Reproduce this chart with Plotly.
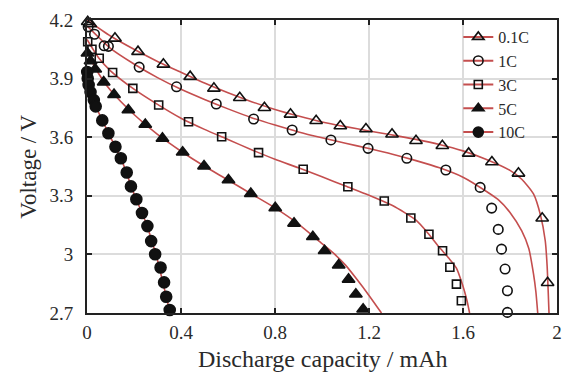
import plotly.graph_objects as go

# ---- measured discharge points (capacity in mAh, voltage in V) ----
c01_cap = [0.003, 0.014, 0.119, 0.217, 0.325, 0.439, 0.540, 0.650, 0.755, 0.866, 0.975,
           1.078, 1.187, 1.298, 1.400, 1.512, 1.624, 1.723, 1.836, 1.937, 1.960]
c01_volt = [4.191, 4.180, 4.106, 4.038, 3.973, 3.910, 3.850, 3.802, 3.751, 3.717, 3.684,
            3.657, 3.642, 3.615, 3.582, 3.556, 3.517, 3.473, 3.415, 3.185, 2.855]

c1_cap = [0.005, 0.032, 0.073, 0.091, 0.222, 0.381, 0.550, 0.709, 0.873, 1.038, 1.196,
          1.361, 1.527, 1.673, 1.722, 1.750, 1.764, 1.779, 1.789, 1.789]
c1_volt = [4.165, 4.127, 4.068, 4.065, 3.959, 3.858, 3.770, 3.693, 3.637, 3.586, 3.543,
           3.492, 3.432, 3.343, 3.237, 3.128, 3.027, 2.925, 2.814, 2.703]

c3_cap = [0.003, 0.021, 0.052, 0.109, 0.195, 0.305, 0.432, 0.573, 0.730, 0.920, 1.110,
          1.265, 1.378, 1.455, 1.513, 1.544, 1.572, 1.593]
c3_volt = [4.089, 4.050, 4.004, 3.931, 3.850, 3.765, 3.679, 3.602, 3.521, 3.436, 3.346,
           3.273, 3.186, 3.103, 3.019, 2.934, 2.848, 2.763]

c5_cap = [0.002, 0.015, 0.035, 0.071, 0.115, 0.176, 0.248, 0.321, 0.407, 0.498, 0.602,
          0.697, 0.801, 0.881, 0.961, 1.011, 1.071, 1.113, 1.144, 1.175]
c5_volt = [4.030, 3.990, 3.948, 3.882, 3.818, 3.739, 3.665, 3.594, 3.523, 3.452, 3.381,
           3.311, 3.238, 3.159, 3.090, 3.019, 2.945, 2.872, 2.796, 2.719]

c10_cap = [0.001, 0.003, 0.007, 0.015, 0.029, 0.037, 0.065, 0.091, 0.121, 0.144, 0.169,
           0.187, 0.210, 0.234, 0.257, 0.273, 0.290, 0.313, 0.328, 0.337, 0.352]
c10_volt = [3.934, 3.901, 3.867, 3.831, 3.790, 3.758, 3.686, 3.620, 3.551, 3.492, 3.419,
            3.348, 3.282, 3.212, 3.145, 3.068, 3.001, 2.933, 2.857, 2.783, 2.715]

# ---- simulated discharge curves ----
m01_cap = [0, 0.1, 0.2, 0.3, 0.4, 0.5, 0.6, 0.7, 0.8, 0.9, 1.0, 1.1, 1.2, 1.3, 1.4, 1.5,
           1.6, 1.7, 1.8, 1.85, 1.9, 1.93, 1.95, 1.958, 1.966]
m01_volt = [4.20, 4.118, 4.050, 3.988, 3.932, 3.877, 3.827, 3.782, 3.742, 3.708, 3.678,
            3.654, 3.632, 3.611, 3.589, 3.563, 3.530, 3.486, 3.430, 3.385, 3.31, 3.20,
            3.07, 2.94, 2.70]

m1_cap = [0, 0.1, 0.2, 0.3, 0.4, 0.5, 0.6, 0.7, 0.8, 0.9, 1.0, 1.1, 1.2, 1.3, 1.4, 1.5,
          1.6, 1.7, 1.75, 1.8, 1.85, 1.88, 1.9, 1.91, 1.918]
m1_volt = [4.17, 4.055, 3.975, 3.905, 3.845, 3.793, 3.745, 3.700, 3.662, 3.627, 3.597,
           3.569, 3.542, 3.513, 3.480, 3.443, 3.395, 3.322, 3.28, 3.215, 3.12, 3.03,
           2.90, 2.81, 2.70]

m3_cap = [0, 0.05, 0.1, 0.2, 0.3, 0.4, 0.5, 0.6, 0.7, 0.8, 0.9, 1.0, 1.1, 1.2, 1.3, 1.4,
          1.45, 1.5, 1.54, 1.572, 1.597, 1.617, 1.628]
m3_volt = [4.10, 4.005, 3.94, 3.846, 3.768, 3.697, 3.640, 3.588, 3.536, 3.487, 3.443,
           3.397, 3.350, 3.303, 3.250, 3.175, 3.11, 3.035, 2.98, 2.93, 2.848, 2.763, 2.70]

m5_cap = [0, 0.02, 0.05, 0.1, 0.2, 0.3, 0.4, 0.5, 0.6, 0.7, 0.8, 0.9, 1.0, 1.05, 1.1,
          1.15, 1.2, 1.253]
m5_volt = [4.06, 3.99, 3.925, 3.84, 3.716, 3.614, 3.528, 3.451, 3.381, 3.309, 3.238,
           3.155, 3.055, 3.005, 2.945, 2.87, 2.79, 2.70]

m10_cap = [0, 0.005, 0.02, 0.05, 0.1, 0.15, 0.2, 0.25, 0.3, 0.35, 0.356]
m10_volt = [3.95, 3.885, 3.815, 3.725, 3.60, 3.475, 3.31, 3.165, 2.97, 2.72, 2.70]

rate_labels = ["0.1C", "1C", "3C", "5C", "10C"]
x_ticks = [0, 0.4, 0.8, 1.2, 1.6, 2]
x_tick_text = ["0", "0.4", "0.8", "1.2", "1.6", "2"]
y_ticks = [2.7, 3.0, 3.3, 3.6, 3.9, 4.2]
y_tick_text = ["2.7", "3", "3.3", "3.6", "3.9", "4.2"]

RED = "#C44E4E"
INK = "#111111"
TEXT = "#2a2a2a"
SERIF = "Liberation Serif"

measured = [(c01_cap, c01_volt), (c1_cap, c1_volt), (c3_cap, c3_volt),
            (c5_cap, c5_volt), (c10_cap, c10_volt)]
model = [(m01_cap, m01_volt), (m1_cap, m1_volt), (m3_cap, m3_volt),
         (m5_cap, m5_volt), (m10_cap, m10_volt)]
symbols = ["triangle-up-open", "circle-open", "square-open", "triangle-up", "circle"]
sizes = [11, 9.5, 8, 11, 11]

fig = go.Figure()

# model curves underneath
for (cx, cy) in model:
    fig.add_trace(go.Scatter(x=cx, y=cy, mode="lines", showlegend=False,
                             line=dict(color=RED, width=1.6, shape="spline", smoothing=0.6),
                             hoverinfo="skip"))

# measured points on top
for (px, py), sym, sz in zip(measured, symbols, sizes):
    fig.add_trace(go.Scatter(x=px, y=py, mode="markers", showlegend=False, cliponaxis=False,
                             marker=dict(symbol=sym, size=sz, color=INK,
                                         line=dict(color=INK, width=1.6))))

# legend entries (line + marker)
for name, sym, sz in zip(rate_labels, symbols, sizes):
    fig.add_trace(go.Scatter(x=[None], y=[None], mode="lines+markers", name=name,
                             line=dict(color=RED, width=2),
                             marker=dict(symbol=sym, size=min(sz, 10), color=INK,
                                         line=dict(color=INK, width=1.6))))

axis_common = dict(
    showgrid=True, gridcolor="#dcdcdc", gridwidth=1.5,
    showline=True, linecolor="#222222", linewidth=2, mirror="ticks",
    ticks="inside", ticklen=5, tickwidth=2, tickcolor="#222222",
    zeroline=False, tickfont=dict(family=SERIF, size=19, color=TEXT),
)

fig.update_xaxes(range=[0, 2], tickvals=x_ticks, ticktext=x_tick_text,
                 ticklabelstandoff=1, **axis_common)
fig.update_yaxes(range=[2.7, 4.2], tickvals=y_ticks, ticktext=y_tick_text,
                 ticklabelstandoff=8, **axis_common)

fig.update_layout(
    width=566, height=372,
    margin=dict(l=87, r=4, t=20, b=59),
    paper_bgcolor="white", plot_bgcolor="white",
    font=dict(family=SERIF, color=TEXT),
    showlegend=True,
    legend=dict(x=0.79, y=1.0, xanchor="left", yanchor="top",
                bgcolor="rgba(0,0,0,0)", font=dict(family=SERIF, size=16, color=TEXT),
                itemwidth=30),
    annotations=[
        dict(text="Discharge capacity / mAh", xref="paper", yref="paper",
             x=0.5, y=-0.156, xanchor="center", yanchor="middle", showarrow=False,
             font=dict(family=SERIF, size=24, color=TEXT)),
        dict(text="Voltage / V", xref="paper", yref="paper",
             x=-0.125, y=0.5, xanchor="center", yanchor="middle", showarrow=False,
             textangle=-90, font=dict(family=SERIF, size=23, color=TEXT)),
    ],
)

fig.write_html("out.html")
